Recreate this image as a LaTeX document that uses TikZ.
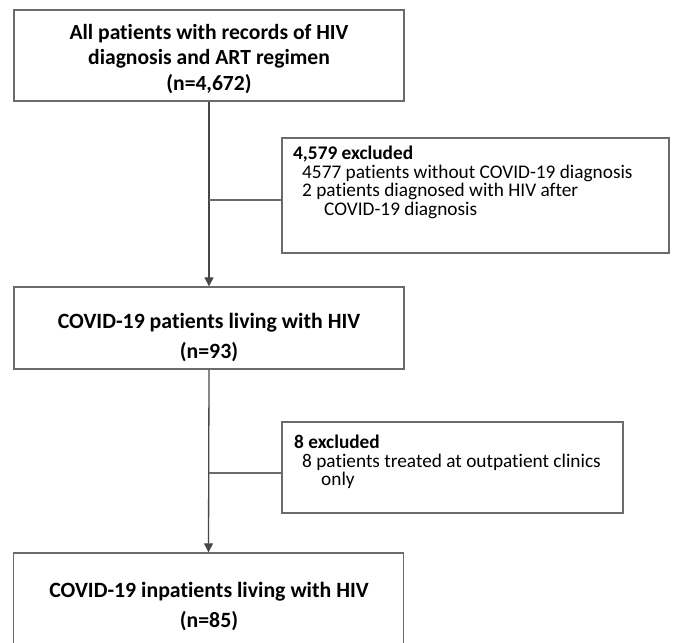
\documentclass[tikz,border=0pt]{standalone}
\usepackage{fontspec}
\setmainfont{Carlito}[Ligatures={NoCommon}]
\usetikzlibrary{arrows.meta}
\begin{document}
\begin{tikzpicture}[x=1pt,y=-1pt,
  mainbox/.style={draw=black!58, line width=1.4pt, minimum width=390pt, inner sep=0pt},
  exbox/.style={draw=black!58, line width=1.4pt, inner sep=0pt},
  maintext/.style={font=\fontsize{21.6pt}{25.5pt}\selectfont\bfseries, align=center, inner sep=0pt},
  maintextb/.style={font=\fontsize{21.8pt}{30pt}\selectfont\bfseries, align=center, inner sep=0pt},
  extext/.style={font=\fontsize{19.3pt}{18.6pt}\selectfont, align=left, inner sep=0pt, anchor=north west},
  flow/.style={draw=black!72, line width=1.3pt, -{Triangle[width=9pt,length=9pt]}},
  link/.style={draw=black!58, line width=1.2pt}]
\clip (0,0) rectangle (676,642);
\fill[white] (0,0) rectangle (676,642);
% main boxes
\node[mainbox, minimum height=91pt] (b1) at (209,55.5) {};
\node[mainbox, minimum height=82pt] (b2) at (209,328) {};
\node[mainbox, minimum height=100pt] (b3) at (208.5,603) {};
% exclusion boxes
\node[exbox, minimum width=387pt, minimum height=115pt] (e1) at (475.5,195.5) {};
\node[exbox, minimum width=341pt, minimum height=91pt] (e2) at (452.5,467.5) {};
% texts
\node[maintext, anchor=north] (t1) at (209,24) {All patients with records of HIV\\diagnosis and ART regimen\\(n=4,672)};
\node[maintextb, anchor=north] (t2) at (209,312.5) {COVID-19 patients living with HIV\\(n=93)};
\node[maintextb, anchor=north] (t3) at (209,581.5) {COVID-19 inpatients living with HIV\\(n=85)};
\node[extext] (x1) at (293,146) {{\bfseries 4,579 excluded}\\\hspace*{9pt}4577 patients without COVID-19 diagnosis\\\hspace*{9pt}2 patients diagnosed with HIV after\\\hspace*{31pt}COVID-19 diagnosis};
\node[extext] (x2) at (294,435) {{\bfseries 8 excluded}\\\hspace*{8pt}8 patients treated at outpatient clinics\\\hspace*{27pt}only};
% connectors
\draw[flow] (b1.south) -- (b2.north);
\draw[flow] (b2.south) -- (b3.north);
\coordinate (j1) at (209,200);
\coordinate (j2) at (209,473);
\draw[link] (j1) -- (j1 -| e1.west);
\draw[link] (j2) -- (j2 -| e2.west);
\end{tikzpicture}
\end{document}
